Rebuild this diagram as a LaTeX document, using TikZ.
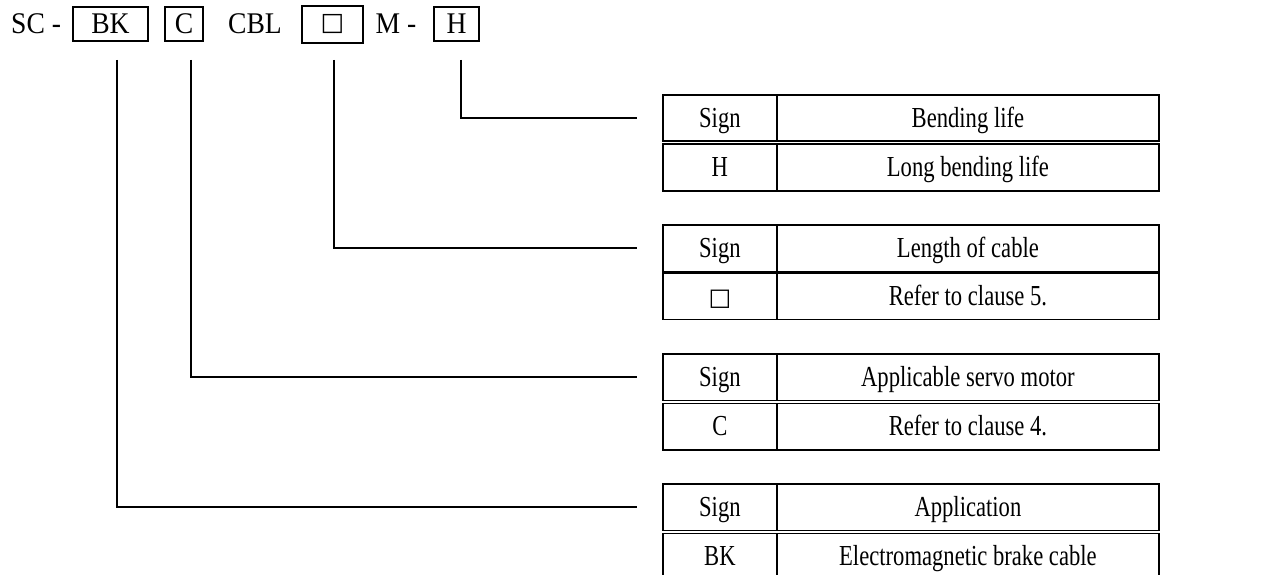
\documentclass[tikz,border=0pt]{standalone}
\usepackage{fontspec}
\setmainfont{Liberation Serif}[FakeStretch=0.78]
\newfontfamily\hdfont{Liberation Serif}[FakeStretch=0.92]
\newfontfamily\symfont{DejaVu Sans}
\begin{document}
\begin{tikzpicture}[x=1pt,y=-1pt,
  font=\fontsize{29}{32}\selectfont,
  hbox/.style={draw, line width=2pt, minimum height=34pt, inner sep=0pt},
  plain/.style={inner sep=0pt},
  htext/.style={font=\hdfont\fontsize{30}{32}\selectfont, text height=21.5pt, text depth=2.5pt},
  cell/.style={draw, line width=1.8pt, minimum height=46.5pt, inner sep=0pt, anchor=north west,
    text height=21pt, text depth=3pt},
  conn/.style={line width=1.4pt}]
\useasboundingbox (0,0) rectangle (1272,575);
% header
\node[plain, htext, anchor=west] (sc) at (11,24) {SC -};
\node[hbox, htext, minimum width=75pt] (bk) at (110.5,24) {BK};
\node[hbox, htext, minimum width=38pt] (cc) at (184,24) {C};
\node[plain, htext] (cbl) at (255,24) {CBL};
\node[hbox, minimum width=61pt, minimum height=37pt, line width=2.8pt] (len) at (332.5,24.5) {\symfont\fontsize{25}{28}\selectfont □};
\node[plain, htext] (mm) at (396,24) {M -};
\node[hbox, htext, minimum width=45pt] (hh) at (456.5,24) {H};
% tables
\foreach \n/\t/\g/\hd/\sg/\val in {
  1/94/3/Bending life/H/Long bending life,
  2/224/1.5/Length of cable/{\symfont\fontsize{24}{28}\selectfont □}/Refer to clause 5.,
  3/353/3/Applicable servo motor/C/Refer to clause 4.,
  4/483/3/Application/BK/Electromagnetic brake cable}{
  \node[cell, minimum width=114pt] (s\n) at (662,\t) {Sign};
  \node[cell, minimum width=382pt] (d\n) at (776,\t) {\hd};
  \node[cell, minimum width=114pt] (v\n) at (662,\t+46.5+\g) {\sg};
  \node[cell, minimum width=382pt] (w\n) at (776,\t+46.5+\g) {\val};
}
% connectors
\coordinate (bkd) at (117,60);
\coordinate (ccd) at (191,60);
\coordinate (lend) at (334,60);
\coordinate (hhd) at (461,60);
\coordinate (e1) at ([xshift=-25pt]s1.west);
\coordinate (e2) at ([xshift=-25pt]s2.west);
\coordinate (e3) at ([xshift=-25pt]s3.west);
\coordinate (e4) at ([xshift=-25pt]s4.west);
\draw[conn] (hhd) |- (e1);
\draw[conn] (lend) |- (e2);
\draw[conn] (ccd) |- (e3);
\draw[conn] (bkd) |- (e4);
\end{tikzpicture}
\end{document}
